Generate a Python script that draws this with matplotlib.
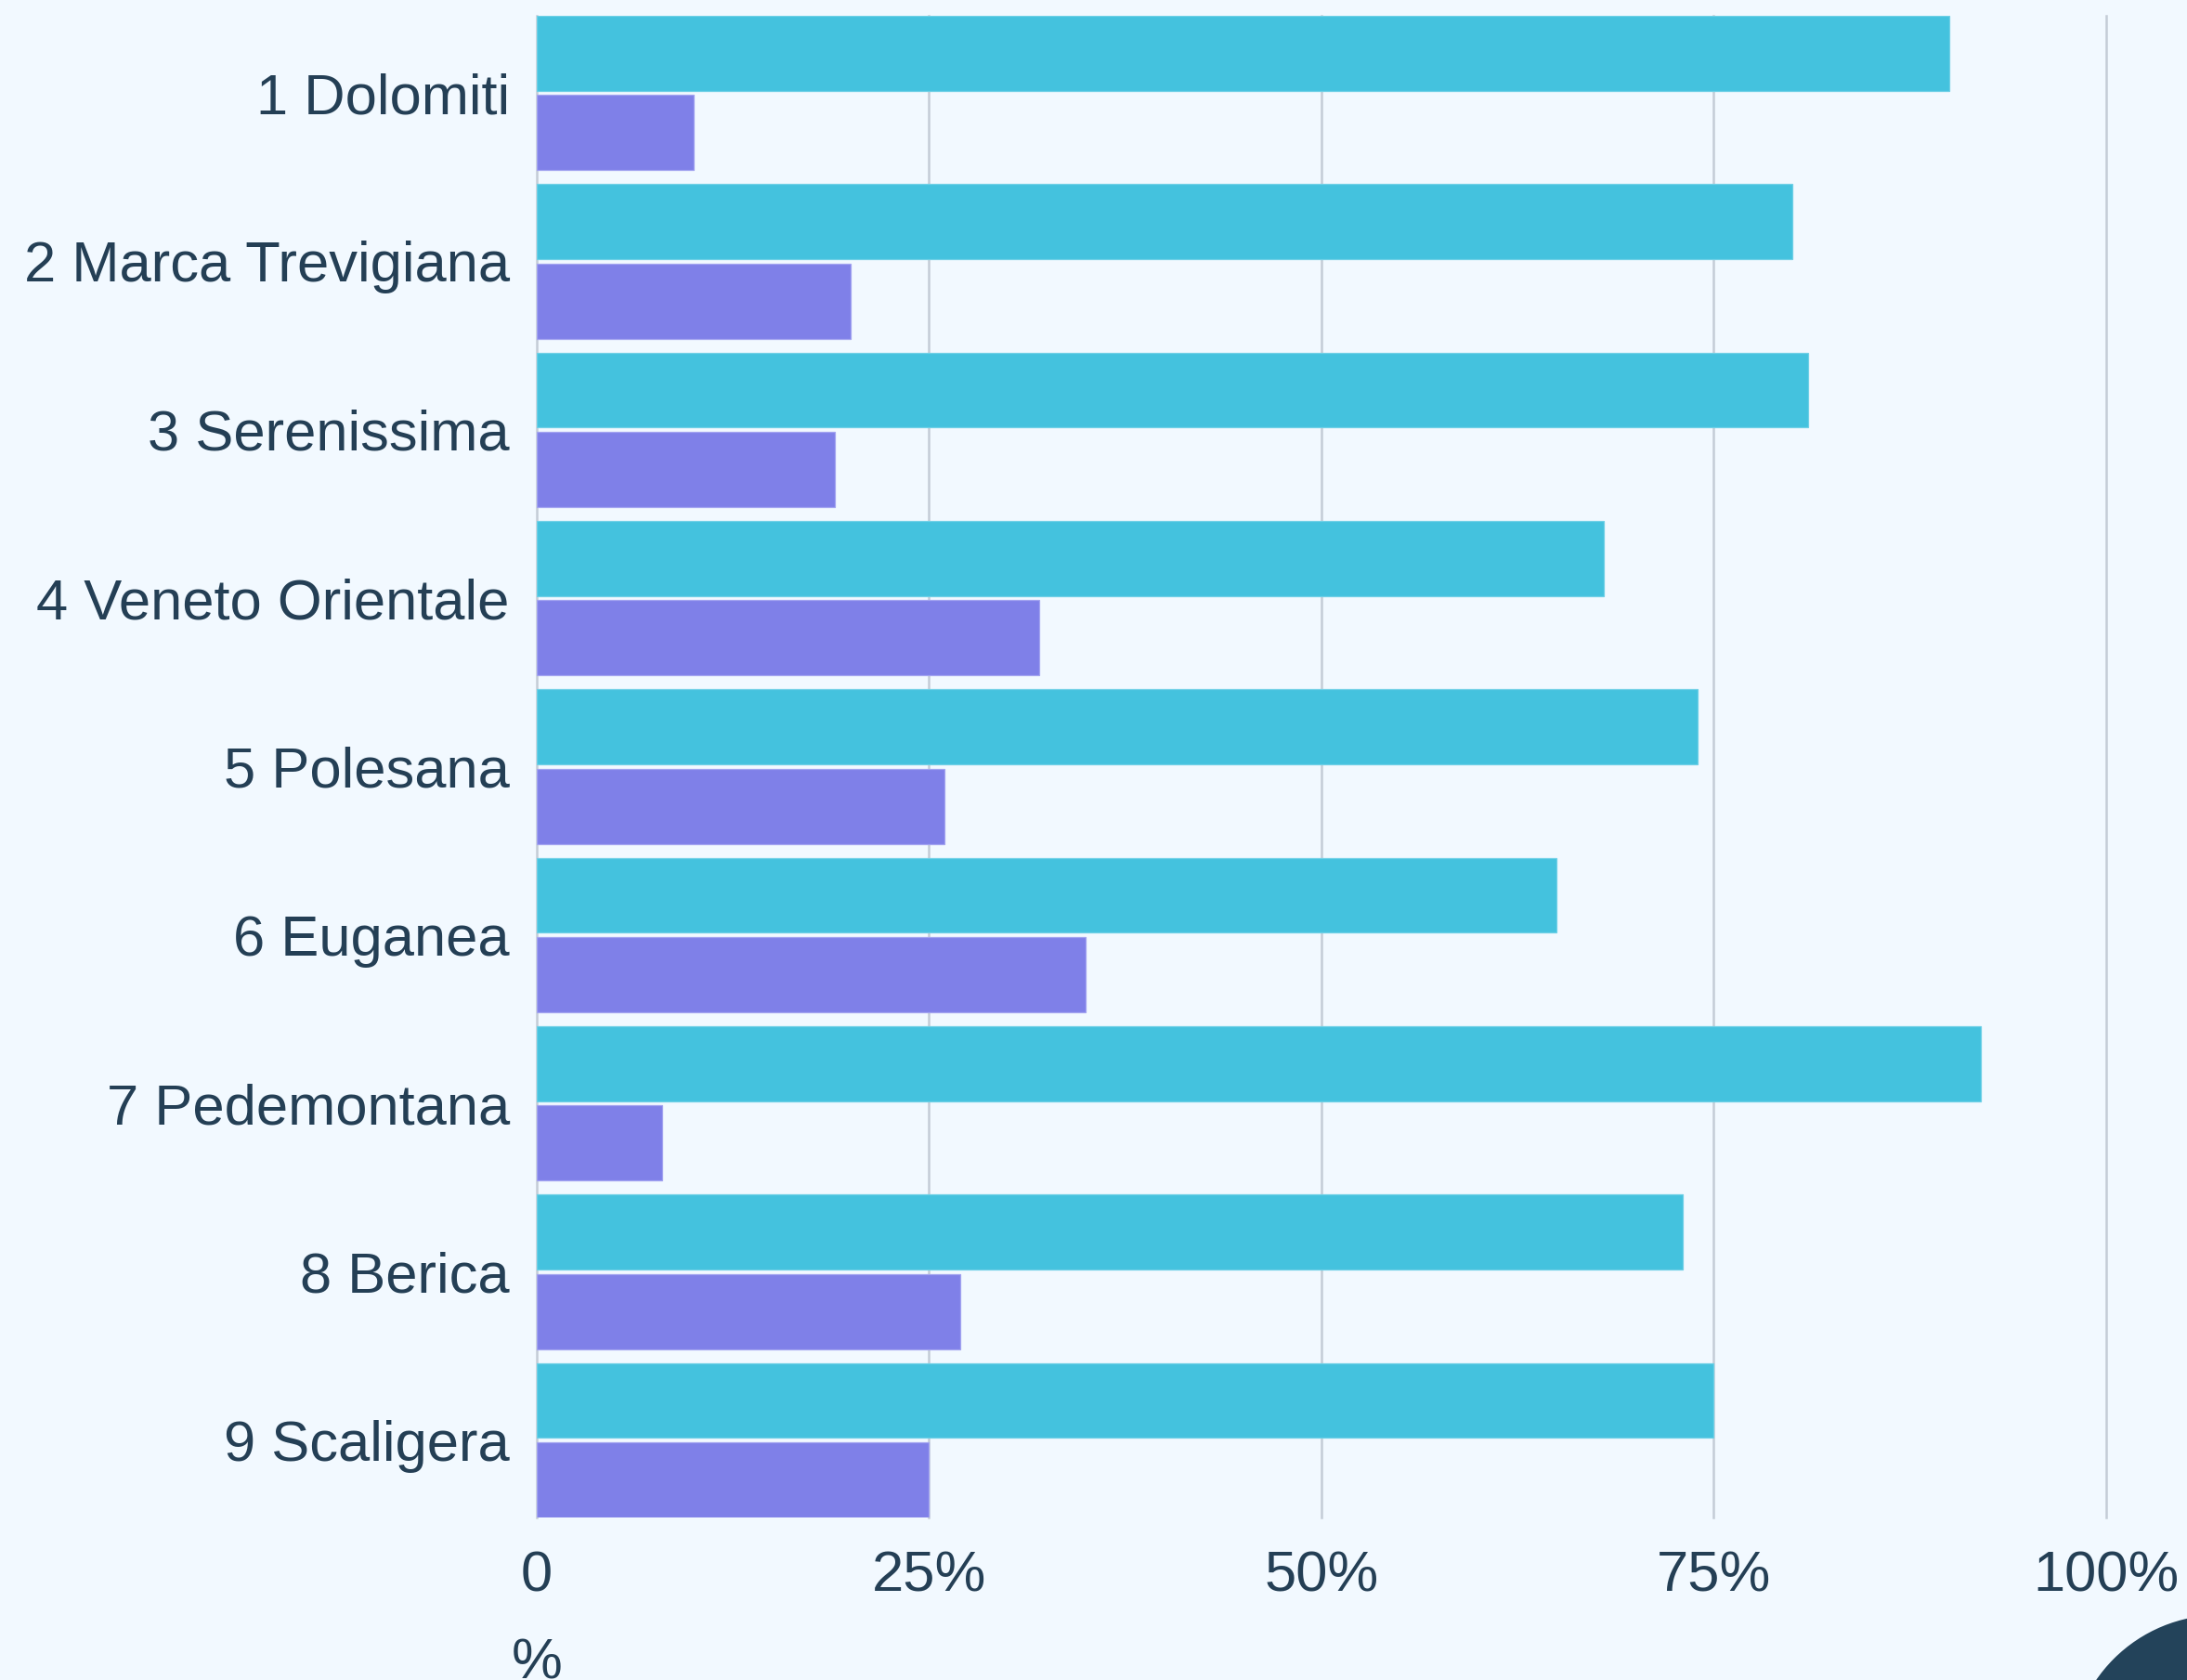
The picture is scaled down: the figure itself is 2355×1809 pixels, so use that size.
import numpy as np
import matplotlib.pyplot as plt
from matplotlib.patches import Circle

# data
regions = ["1 Dolomiti", "2 Marca Trevigiana", "3 Serenissima", "4 Veneto Orientale",
           "5 Polesana", "6 Euganea", "7 Pedemontana", "8 Berica", "9 Scaligera"]
share_a = [90, 80, 81, 68, 74, 65, 92, 73, 75]
share_b = [10, 20, 19, 32, 26, 35, 8, 27, 25]
ticks = [0, 25, 50, 75, 100]
tick_labels = ["0", "25%", "50%", "75%", "100%"]

bg = "#f2f9ff"
text_col = "#243f55"
col_a = "#44c2de"
col_b = "#7f80e8"

plt.rcParams['font.family'] = ['Liberation Sans', 'DejaVu Sans']

fig = plt.figure(figsize=(15.7, 12.06), dpi=150, facecolor=bg)
ax = fig.add_axes([0.2454, 0.0967, 0.7176, 0.894])
ax.set_facecolor(bg)

y = np.arange(len(regions))
h = 0.446
off = 0.236
ax.barh(y - off, share_a, height=h, color=col_a, edgecolor="#6fd0e6", linewidth=0.6, zorder=3)
ax.barh(y + off, share_b, height=h, color=col_b, edgecolor="#a3a4f0", linewidth=0.6, zorder=3)

ax.set_xlim(0, 100)
ax.set_ylim(len(regions) - 1 + off + h / 2, -off - h / 2)
ax.set_xticks(ticks)
ax.set_xticklabels(tick_labels)
ax.set_yticks(y)
ax.set_yticklabels(regions)
ax.tick_params(axis='both', length=0, labelsize=29.5, colors=text_col)
ax.tick_params(axis='x', pad=17)
ax.tick_params(axis='y', pad=14)

ax.grid(axis='x', color="#c4ccd6", linewidth=1.2, zorder=0)
for g in ax.get_xgridlines():
    g.set_clip_on(False)
for s in ax.spines.values():
    s.set_visible(False)

ax.set_xlabel("%", fontsize=29.5, color=text_col)
ax.xaxis.set_label_coords(0, -0.08)

# dark round button in the bottom right corner
fig.patches.append(Circle((2390, 1809 - 1900), 161, transform=None,
                          facecolor="#23435a", edgecolor="none"))

fig.savefig("out.png", dpi=150, facecolor=bg)
